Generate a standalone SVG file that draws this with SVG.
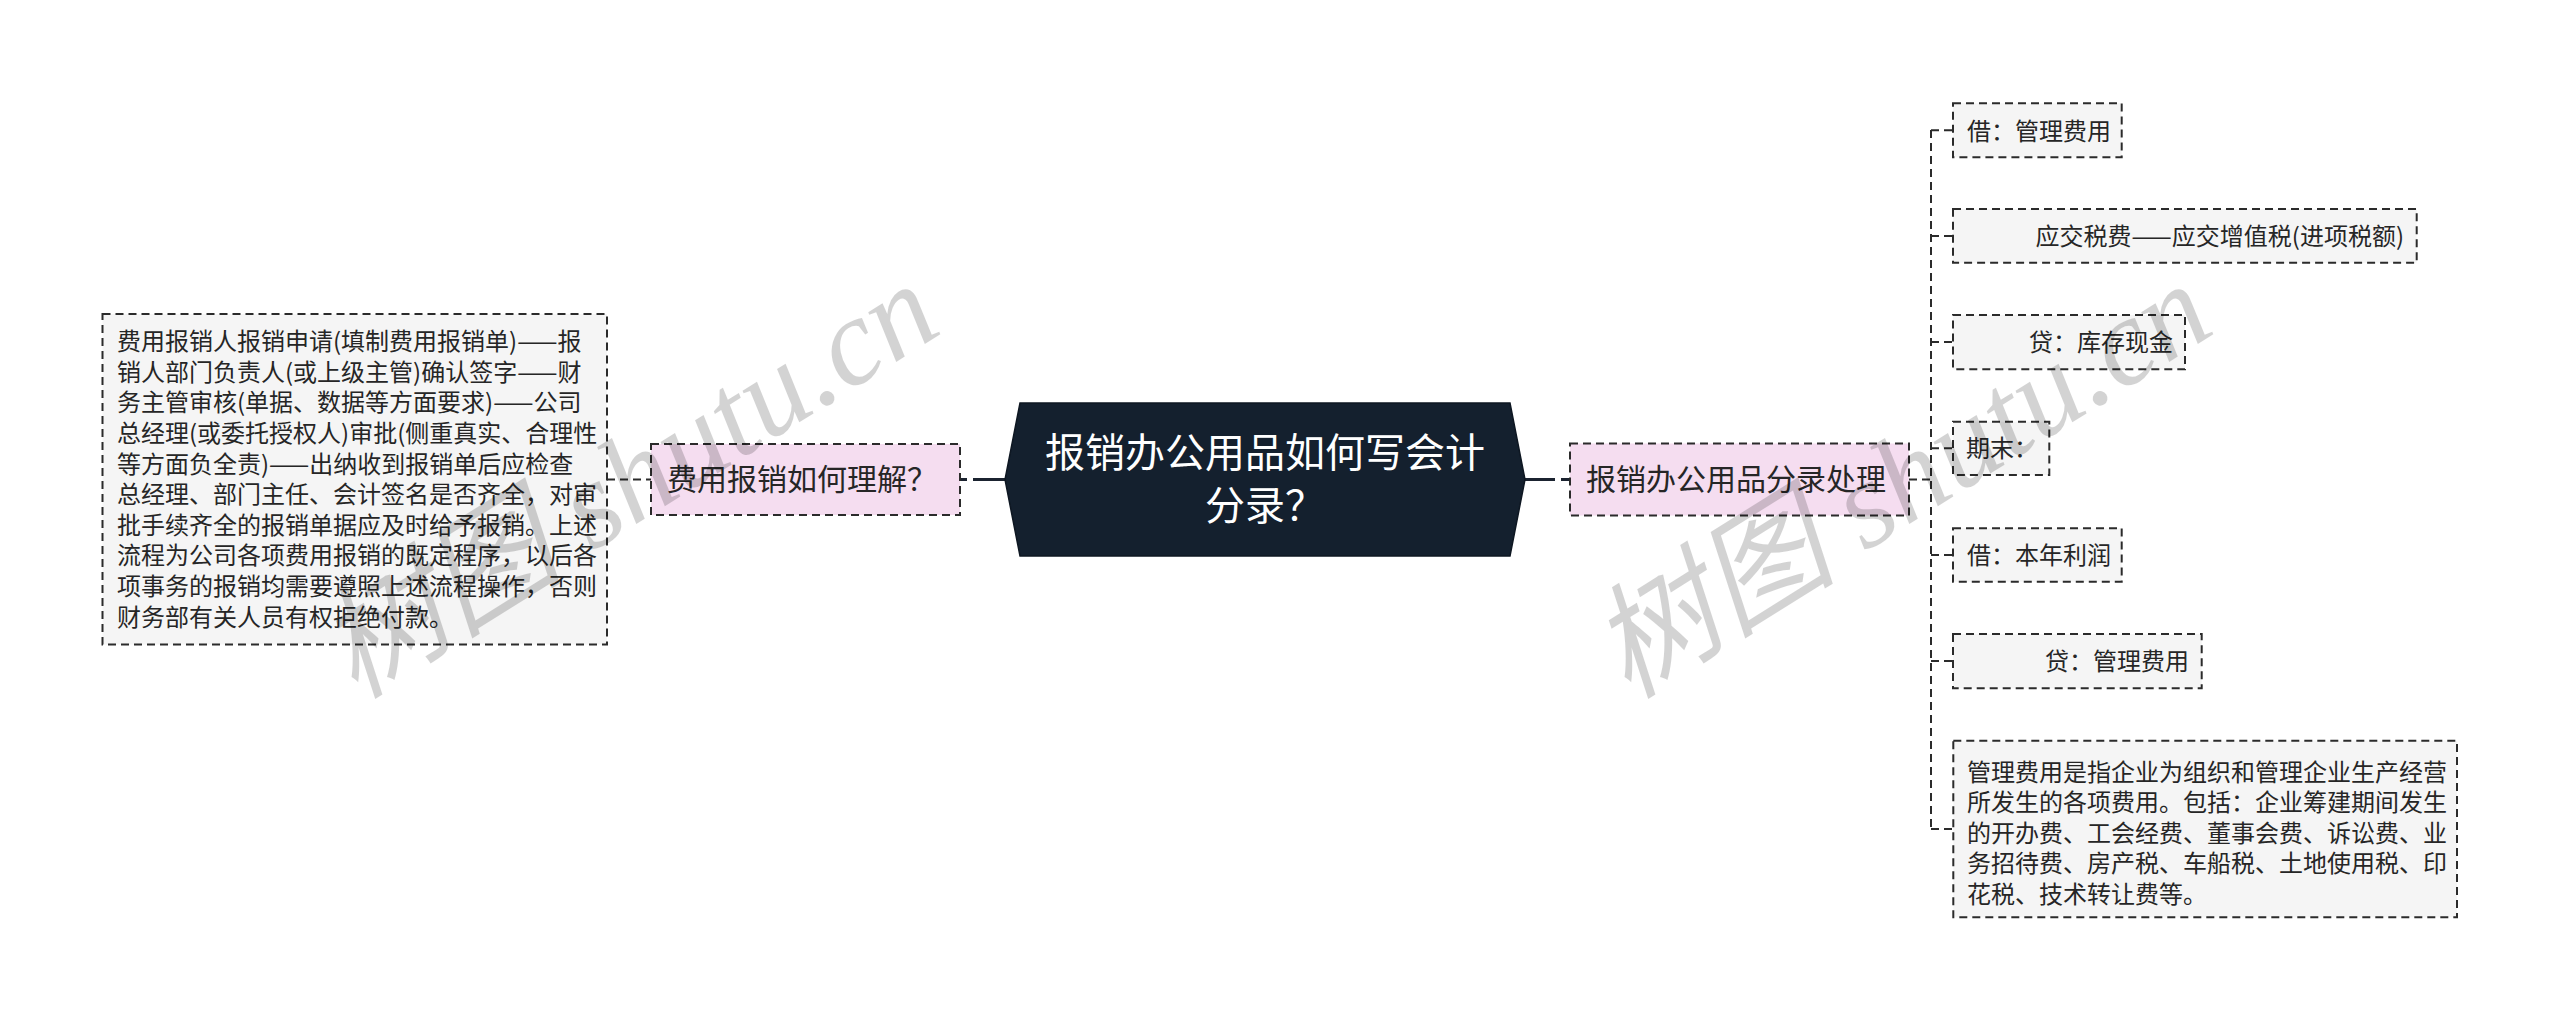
<svg xmlns="http://www.w3.org/2000/svg" width="2560" height="1021" viewBox="0 0 2560 1021">
<style>
.t{font-family:"Noto Sans CJK SC","Noto Sans",sans-serif;fill:#262626}
.leaf{fill:#f5f5f5;stroke:#2b2b2b;stroke-width:2;stroke-dasharray:8 5}
.branch{fill:#f5ddf0;stroke:#2b2b2b;stroke-width:2;stroke-dasharray:8 5}
.s24{font-size:24px}
.s30{font-size:30px}
.conn{fill:none;stroke:#2b2b2b;stroke-width:2;stroke-dasharray:8 5}
.solid{fill:none;stroke:#1b2330;stroke-width:3}
.wm{font-family:"Liberation Serif","Noto Sans CJK SC",serif;font-style:italic;font-size:124px;fill:#000;opacity:0.17}
</style>
<rect width="2560" height="1021" fill="#ffffff"/>
<g id="connectors">
  <line class="solid" x1="960" y1="479.5" x2="1006" y2="479.5" stroke-dasharray="7 6 40"/>
  <line class="solid" x1="1524" y1="479.5" x2="1570" y2="479.5" stroke-dasharray="31 6 9"/>
  <line class="conn" x1="607" y1="479.5" x2="651" y2="479.5"/>
  <line class="conn" x1="1909" y1="479.5" x2="1931" y2="479.5"/>
  <line class="conn" x1="1931" y1="130" x2="1931" y2="829"/>
  <line class="conn" x1="1931" y1="130.3" x2="1953" y2="130.3"/>
  <line class="conn" x1="1931" y1="236" x2="1953" y2="236"/>
  <line class="conn" x1="1931" y1="342" x2="1953" y2="342"/>
  <line class="conn" x1="1931" y1="448.3" x2="1953" y2="448.3"/>
  <line class="conn" x1="1931" y1="555" x2="1953" y2="555"/>
  <line class="conn" x1="1931" y1="661" x2="1953" y2="661"/>
  <line class="conn" x1="1931" y1="829" x2="1953" y2="829"/>
</g>
<g id="root">
  <polygon points="1020,403 1510,403 1525,479.5 1510,556 1020,556 1005,479.5" fill="#14202e" stroke="#0e1722" stroke-width="1.5"/>
  <text class="t" x="1265" y="467" font-size="40" text-anchor="middle" style="fill:#ffffff">报销办公用品如何写会计</text>
  <text class="t" x="1265" y="520" font-size="40" text-anchor="middle" style="fill:#ffffff">分录？</text>
</g>
<g id="branch-left">
  <rect class="branch" x="651" y="444" width="309" height="71"/>
  <text class="t s30" x="667" y="490">费用报销如何理解？</text>
</g>
<g id="branch-right">
  <rect class="branch" x="1570" y="443.5" width="339" height="72"/>
  <text class="t s30" x="1586" y="490">报销办公用品分录处理</text>
</g>
<g id="leaf-left">
  <rect class="leaf" x="102.5" y="314" width="504.5" height="330.5"/>
  <text class="t s24" x="117">
    <tspan x="117" y="350.2">费用报销人报销申请(填制费用报销单)——报</tspan>
    <tspan x="117" y="380.8">销人部门负责人(或上级主管)确认签字——财</tspan>
    <tspan x="117" y="411.4">务主管审核(单据、数据等方面要求)——公司</tspan>
    <tspan x="117" y="442">总经理(或委托授权人)审批(侧重真实、合理性</tspan>
    <tspan x="117" y="472.6">等方面负全责)——出纳收到报销单后应检查</tspan>
    <tspan x="117" y="503.2">总经理、部门主任、会计签名是否齐全，对审</tspan>
    <tspan x="117" y="533.8">批手续齐全的报销单据应及时给予报销。上述</tspan>
    <tspan x="117" y="564.4">流程为公司各项费用报销的既定程序，以后各</tspan>
    <tspan x="117" y="595">项事务的报销均需要遵照上述流程操作，否则</tspan>
    <tspan x="117" y="625.6">财务部有关人员有权拒绝付款。</tspan>
  </text>
</g>
<g id="leaf-r1">
  <rect class="leaf" x="1953" y="103.3" width="168.7" height="54"/>
  <text class="t s24" x="1967" y="139.5">借：管理费用</text>
</g>
<g id="leaf-r2">
  <rect class="leaf" x="1953" y="209" width="463.7" height="53.7"/>
  <text class="t s24" x="2404" y="244.5" text-anchor="end">应交税费——应交增值税(进项税额)</text>
</g>
<g id="leaf-r3">
  <rect class="leaf" x="1953" y="315" width="232" height="54.3"/>
  <text class="t s24" x="2173" y="350.5" text-anchor="end">贷：库存现金</text>
</g>
<g id="leaf-r4">
  <rect class="leaf" x="1953" y="421.7" width="96.3" height="53.3"/>
  <text class="t s24" x="1966" y="457">期末：</text>
</g>
<g id="leaf-r5">
  <rect class="leaf" x="1953" y="528.3" width="168.7" height="53.4"/>
  <text class="t s24" x="1967" y="563.5">借：本年利润</text>
</g>
<g id="leaf-r6">
  <rect class="leaf" x="1953" y="634" width="248.7" height="54.3"/>
  <text class="t s24" x="2189" y="669.5" text-anchor="end">贷：管理费用</text>
</g>
<g id="leaf-r7">
  <rect class="leaf" x="1953.3" y="740.7" width="503.7" height="176.6"/>
  <text class="t s24">
    <tspan x="1967" y="780.5">管理费用是指企业为组织和管理企业生产经营</tspan>
    <tspan x="1967" y="811">所发生的各项费用。包括：企业筹建期间发生</tspan>
    <tspan x="1967" y="841.5">的开办费、工会经费、董事会费、诉讼费、业</tspan>
    <tspan x="1967" y="872">务招待费、房产税、车船税、土地使用税、印</tspan>
    <tspan x="1967" y="902.5">花税、技术转让费等。</tspan>
  </text>
</g>
<g id="watermark">
  <text class="wm" x="355" y="700" transform="rotate(-32 355 700)">树图 shutu.cn</text>
  <text class="wm" x="1628" y="700" transform="rotate(-32 1628 700)">树图 shutu.cn</text>
</g>
</svg>
